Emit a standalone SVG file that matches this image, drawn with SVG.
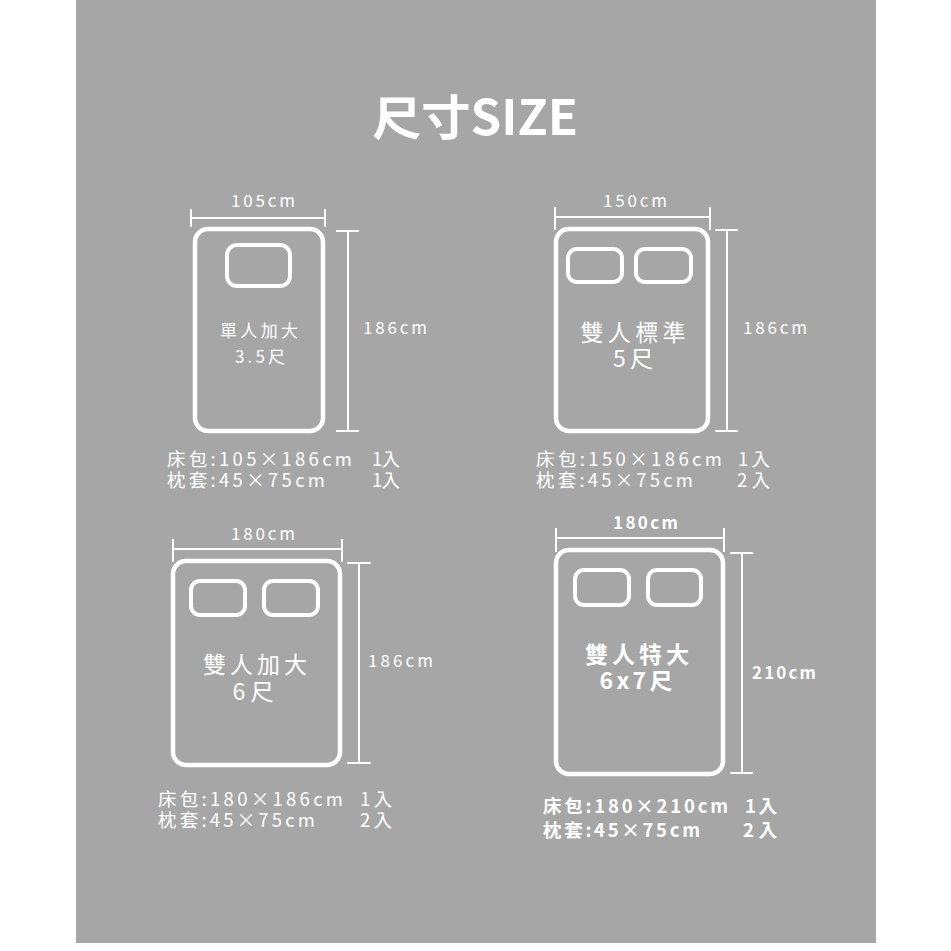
<svg xmlns="http://www.w3.org/2000/svg" width="951" height="951" viewBox="0 0 951 951">
<style>
.bed{fill:none;stroke:#fff;stroke-width:4.5}
.pil{fill:none;stroke:#fff;stroke-width:4}
.dim{fill:none;stroke:#fff;stroke-width:2}
text{fill:#fff;font-family:"Noto Sans CJK TC","Noto Sans",sans-serif}
.d{font-size:17px}
.c{font-size:18.5px}
.m{font-size:17px}
.big{font-size:23px}
.b{font-weight:bold}
</style>
<rect x="0" y="0" width="951" height="951" fill="#fff"/>
<rect x="76" y="0" width="800" height="943" fill="#a6a6a6"/>
<text x="475" y="135" text-anchor="middle" font-size="48" font-weight="bold" textLength="206" lengthAdjust="spacingAndGlyphs">尺寸SIZE</text>

<g id="bed1">
<rect class="bed" x="195" y="229" width="128" height="202" rx="13"/>
<rect class="pil" x="227" y="245" width="63" height="41" rx="10"/>
<text class="m" x="259" y="337" text-anchor="middle" textLength="78">單人加大</text>
<text class="d" x="260" y="363" text-anchor="middle" textLength="50">3.5尺</text>
</g>
<g id="bed2">
<rect class="bed" x="556" y="229" width="152" height="202" rx="13"/>
<rect class="pil" x="568" y="249" width="54" height="33" rx="9"/>
<rect class="pil" x="636" y="249" width="55" height="33" rx="9"/>
<text class="big" x="633" y="341" text-anchor="middle" textLength="105">雙人標準</text>
<text class="big" x="633" y="367" text-anchor="middle" textLength="40">5尺</text>
</g>
<g id="bed3">
<rect class="bed" x="173" y="561" width="167" height="204" rx="13"/>
<rect class="pil" x="191" y="581" width="54" height="34" rx="9"/>
<rect class="pil" x="264" y="581" width="54" height="34" rx="9"/>
<text class="big" x="255" y="673" text-anchor="middle" textLength="104">雙人加大</text>
<text class="big" x="253" y="700" text-anchor="middle" textLength="41">6尺</text>
</g>
<g id="bed4">
<rect class="bed" x="556" y="550" width="167" height="224" rx="13"/>
<rect class="pil" x="575" y="570" width="54" height="35" rx="9"/>
<rect class="pil" x="648" y="570" width="53" height="35" rx="9"/>
<text class="big b" x="637" y="663" text-anchor="middle" textLength="104">雙人特大</text>
<text class="big b" x="636" y="689" text-anchor="middle" textLength="73">6x7尺</text>
</g>

<g id="dimensions">
<path class="dim" d="M191,218H325M191,209V227M325,209V227M348,231V431M336,231H359M336,431H359"/>
<path class="dim" d="M555,217H710M555,207V230M710,207V230M727,230V431M715,230H738M715,431H738"/>
<path class="dim" d="M173,549H342M173,539V562M342,539V562M359,563V763M347,563H371M347,763H371"/>
<path class="dim" d="M556,538H724M556,528V552M724,528V552M742,553V773M730,553H753M730,773H753"/>
</g>

<g id="labels">
<text class="d" x="231" y="207" textLength="64">105cm</text>
<text class="d" x="363" y="334" textLength="64">186cm</text>
<text class="d" x="603" y="207" textLength="64">150cm</text>
<text class="d" x="743" y="334" textLength="64">186cm</text>
<text class="d" x="231" y="540" textLength="64">180cm</text>
<text class="d" x="368" y="667" textLength="65">186cm</text>
<text class="d b" x="613" y="529" textLength="65">180cm</text>
<text class="d b" x="752" y="679" textLength="64">210cm</text>
</g>

<g id="caption1">
<text class="c" x="167" y="466" textLength="185">床包:105×186cm</text>
<text class="c" x="372" y="466" textLength="28">1入</text>
<text class="c" x="167" y="487" textLength="158">枕套:45×75cm</text>
<text class="c" x="372" y="487" textLength="28">1入</text>
</g>
<g id="caption2">
<text class="c" x="536" y="466" textLength="186">床包:150×186cm</text>
<text class="c" x="738" y="466" textLength="32">1入</text>
<text class="c" x="536" y="487" textLength="157">枕套:45×75cm</text>
<text class="c" x="737" y="487" textLength="33">2入</text>
</g>
<g id="caption3">
<text class="c" x="158" y="806" textLength="185">床包:180×186cm</text>
<text class="c" x="360" y="806" textLength="32">1入</text>
<text class="c" x="158" y="827" textLength="157">枕套:45×75cm</text>
<text class="c" x="360" y="827" textLength="32">2入</text>
</g>
<g id="caption4">
<text class="c b" x="543" y="813" textLength="185">床包:180×210cm</text>
<text class="c b" x="745" y="813" textLength="32">1入</text>
<text class="c b" x="543" y="837" textLength="157">枕套:45×75cm</text>
<text class="c b" x="743" y="837" textLength="34">2入</text>
</g>
</svg>
